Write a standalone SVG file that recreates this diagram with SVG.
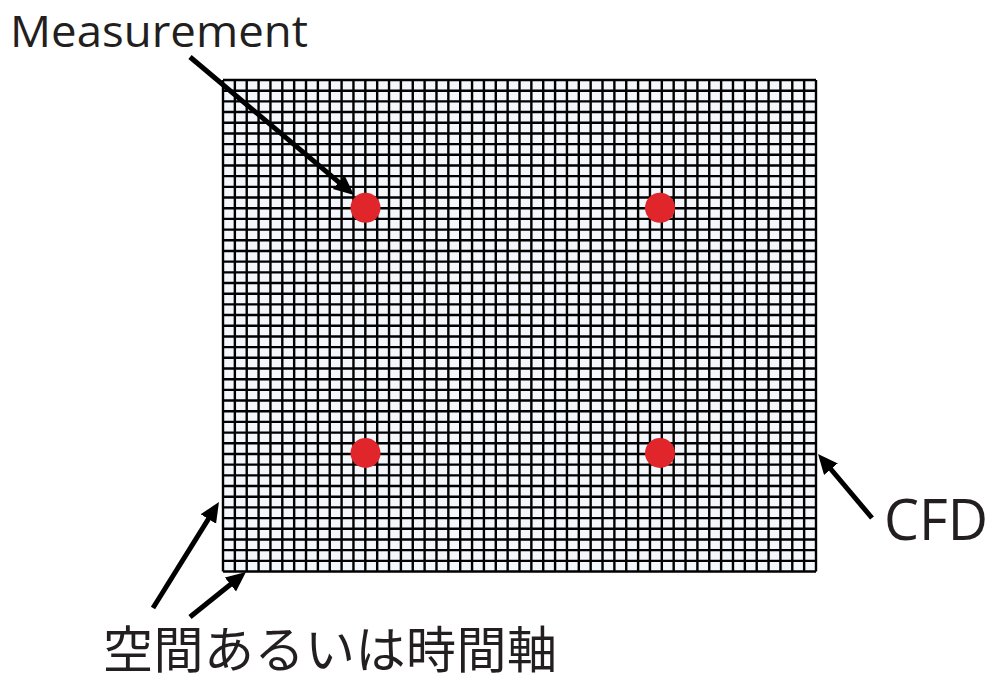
<svg xmlns="http://www.w3.org/2000/svg" width="992" height="682" viewBox="0 0 992 682">
<defs>
<style>
.lbl{font-family:"Open Sans","Liberation Sans",sans-serif;fill:#231f20}
.jp{font-family:"Noto Sans CJK JP","Noto Sans",sans-serif;fill:#231f20}
.grid{fill:none;stroke:#000;stroke-width:2.4}
.dot{fill:#e0262a}
.arr{stroke:#000;stroke-width:5;fill:none;marker-end:url(#ah)}
</style>
<marker id="ah" markerUnits="userSpaceOnUse" markerWidth="22" markerHeight="20" refX="14" refY="9" orient="auto" viewBox="0 0 22 20">
<path d="M0,0 L20,9 L0,18 z" fill="#000"/>
</marker>
</defs>
<rect width="992" height="682" fill="#fff"/>
<g id="cfd-grid">
<rect x="223" y="80" width="593" height="491.5" fill="#f3f7fb"/>
<path class="grid" d="M223 80V571.5M234.86 80V571.5M246.72 80V571.5M258.58 80V571.5M270.44 80V571.5M282.3 80V571.5M294.16 80V571.5M306.02 80V571.5M317.88 80V571.5M329.74 80V571.5M341.6 80V571.5M353.46 80V571.5M365.32 80V571.5M377.18 80V571.5M389.04 80V571.5M400.9 80V571.5M412.76 80V571.5M424.62 80V571.5M436.48 80V571.5M448.34 80V571.5M460.2 80V571.5M472.06 80V571.5M483.92 80V571.5M495.78 80V571.5M507.64 80V571.5M519.5 80V571.5M531.36 80V571.5M543.22 80V571.5M555.08 80V571.5M566.94 80V571.5M578.8 80V571.5M590.66 80V571.5M602.52 80V571.5M614.38 80V571.5M626.24 80V571.5M638.1 80V571.5M649.96 80V571.5M661.82 80V571.5M673.68 80V571.5M685.54 80V571.5M697.4 80V571.5M709.26 80V571.5M721.12 80V571.5M732.98 80V571.5M744.84 80V571.5M756.7 80V571.5M768.56 80V571.5M780.42 80V571.5M792.28 80V571.5M804.14 80V571.5M816 80V571.5
M223 80H816M223 90.69H816M223 101.37H816M223 112.06H816M223 122.74H816M223 133.43H816M223 144.11H816M223 154.8H816M223 165.48H816M223 176.17H816M223 186.85H816M223 197.54H816M223 208.22H816M223 218.91H816M223 229.59H816M223 240.28H816M223 250.96H816M223 261.65H816M223 272.33H816M223 283.02H816M223 293.7H816M223 304.39H816M223 315.07H816M223 325.76H816M223 336.44H816M223 347.13H816M223 357.81H816M223 368.5H816M223 379.18H816M223 389.87H816M223 400.55H816M223 411.24H816M223 421.92H816M223 432.61H816M223 443.29H816M223 453.98H816M223 464.66H816M223 475.35H816M223 486.03H816M223 496.72H816M223 507.4H816M223 518.09H816M223 528.77H816M223 539.46H816M223 550.14H816M223 560.83H816M223 571.51H816"/>
</g>
<g id="measurement-points">
<circle class="dot" cx="365.5" cy="207.8" r="15"/>
<circle class="dot" cx="660" cy="207.8" r="15"/>
<circle class="dot" cx="365.5" cy="453" r="15"/>
<circle class="dot" cx="660" cy="453" r="15"/>
</g>
<g id="label-measurement"><text class="lbl" x="10" y="47" font-size="44" textLength="298" lengthAdjust="spacingAndGlyphs">Measurement</text></g>
<g id="label-cfd"><text class="lbl" x="884" y="540" font-size="56" textLength="104" lengthAdjust="spacingAndGlyphs">CFD</text></g>
<g id="label-axis"><text class="jp" x="103" y="668" font-size="50" textLength="454" lengthAdjust="spacing">空間あるいは時間軸</text></g>
<g id="connectors">
<line class="arr" x1="190" y1="57" x2="349.4" y2="191.1"/>
<line class="arr" x1="872" y1="518" x2="821.9" y2="458.5"/>
<line class="arr" x1="153" y1="608" x2="215.8" y2="507.1"/>
<line class="arr" x1="190" y1="617" x2="241.3" y2="575.8"/>
</g>
</svg>
